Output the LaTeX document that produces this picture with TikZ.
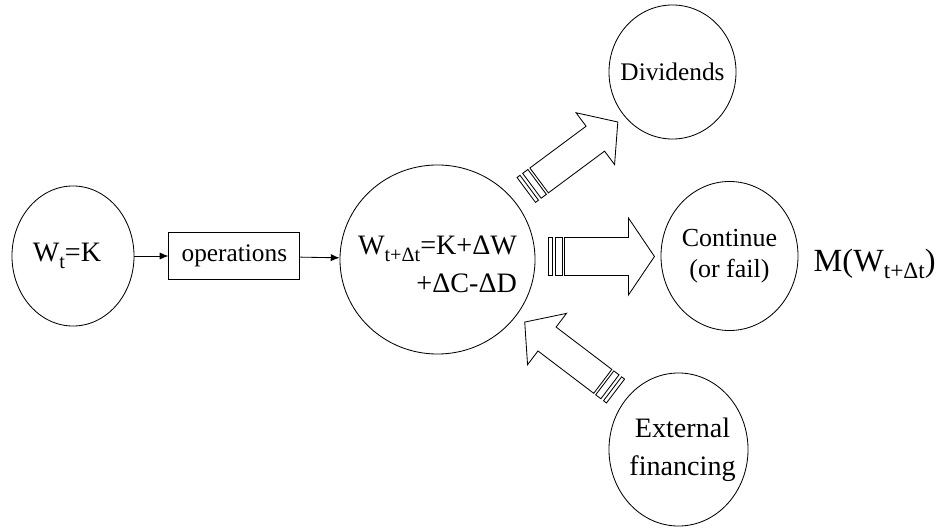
\documentclass[tikz,border=0pt]{standalone}
\usepackage{fontspec}
\setmainfont{Liberation Serif}
\usepackage{tikz}
\usetikzlibrary{arrows.meta, positioning, shapes.geometric, calc}
\tikzset{
  oval/.style={
    ellipse,
    draw=black,
    line width=0.6pt,
    inner sep=0pt
  },
  ovaltext/.style={
    align=center,
    inner sep=0pt
  },
  opbox/.style={
    rectangle,
    draw=black,
    line width=0.6pt,
    minimum width=3.275cm,
    minimum height=1.175cm,
    inner sep=0pt,
    font=\fontsize{18}{22}\selectfont
  },
  flowarrow/.style={-{Latex[length=2.2mm, width=1.8mm]}, line width=0.6pt},
  blockarrow/.style={draw=black, line width=0.6pt, line join=miter}
}
% low, large subscript as in the original slide
\newcommand{\lowsub}[1]{\raisebox{-0.24em}{\scalebox{0.72}{#1}}}
% striped block arrow: origin, angle, shaft half width, head half width, head base, tip
\newcommand{\stripedarrow}[6]{%
  \begin{scope}[shift={#1}, rotate=#2]
    \draw[blockarrow] (0,-#3) rectangle (3.7,#3);
    \draw[blockarrow] (7,-#3) rectangle (13.5,#3);
    \draw[blockarrow] (16,-#3) -- (#5,-#3) -- (#5,-#4) -- (#6,0)
      -- (#5,#4) -- (#5,#3) -- (16,#3) -- cycle;
  \end{scope}}

\begin{document}
\begin{tikzpicture}[x=0.025cm, y=0.025cm]
  \useasboundingbox (0,0) rectangle (946,527);

  \node[oval, minimum width=3.05cm, minimum height=3.5cm,
    label={[ovaltext, font=\fontsize{20}{24}\selectfont, xshift=-0.15cm]center:W\lowsub{t}=K}] (start) at (73,271) {};
  \node[opbox, right=0.85cm of start] (ops) {operations};
  \node[oval, minimum width=4.875cm, minimum height=4.725cm,
    label={[ovaltext, align=right, font=\fontsize{20}{27}\selectfont, yshift=-0.12cm]center:W\lowsub{t+Δt}=K+ΔW\\+ΔC-ΔD}] (big) at (437.5,267.5) {};
  \node[oval, minimum width=3.175cm, minimum height=3.35cm,
    label={[ovaltext, font=\fontsize{18}{22}\selectfont]center:Dividends}] (div) at (672.5,455) {};
  \node[oval, minimum width=3.425cm, minimum height=3.725cm,
    label={[ovaltext, font=\fontsize{18.5}{22}\selectfont]center:Continue\\(or fail)}] (cont) at (729.5,271) {};
  \node[oval, minimum width=3.475cm, minimum height=3.825cm,
    label={[ovaltext, font=\fontsize{20}{27}\selectfont, xshift=0.1cm]center:External\\financing}] (fin) at (678.5,77.5) {};
  \node[right=0.375cm of cont, yshift=-0.2cm, inner sep=0pt, font=\fontsize{23}{27}\selectfont] (mval) {M(W\lowsub{t+Δt})};

  \draw[flowarrow] (start) -- (ops);
  \draw[flowarrow] (ops) -- (big);

  % block arrows out of and into the balance
  \stripedarrow{($(big.38.5)+(38.5:16)$)}{36.6}{15.5}{32.3}{86}{114}
  \stripedarrow{($(big.east)+(13,3)$)}{0}{19}{38.5}{80}{106}
  \stripedarrow{($(fin.137.8)+(137.8:13)$)}{142.8}{15}{32.2}{86}{114}
\end{tikzpicture}
\end{document}
